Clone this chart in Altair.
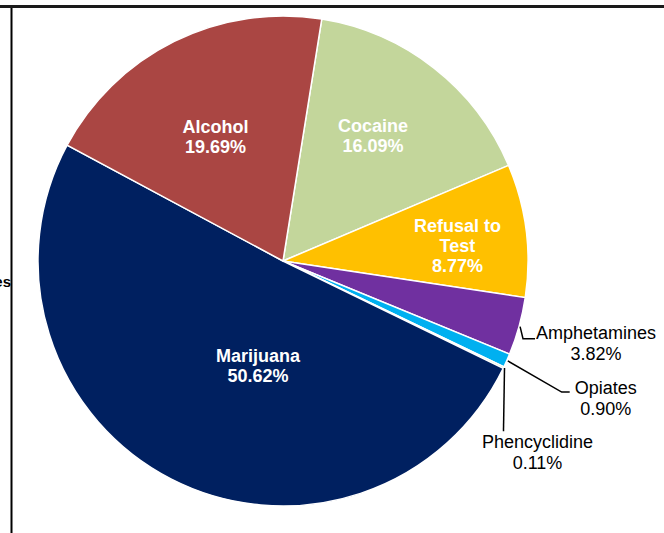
import math
import altair as alt
import pandas as pd

# ---- data ----
categories = ["Cocaine", "Refusal to Test", "Amphetamines", "Opiates",
              "Phencyclidine", "Marijuana", "Alcohol"]
shares = [16.09, 8.77, 3.82, 0.90, 0.11, 50.62, 19.69]
label_names = ["Cocaine", "Refusal to\nTest", "Amphetamines", "Opiates",
               "Phencyclidine", "Marijuana", "Alcohol"]
inside = [True, True, False, False, False, True, True]

# ---- styles / layout ----
colors = ["#C3D69B", "#FFC000", "#7030A0", "#00B0F0", "#92D050", "#002060", "#AA4643"]
W, H = 664, 533
CX, CY, R = 283, 261, 245
START_DEG = 9.1
FONT = "Liberation Sans"
LH_IN, LH_OUT = 20, 21

label_layout = {  # (angle shift in degrees from slice middle, radius in px)
    "Cocaine": (-2.0, 153),
    "Refusal to Test": (2.6, 175),
    "Amphetamines": (-0.5, 324),
    "Opiates": (-0.8, 351),
    "Phencyclidine": (11.3, 319),
    "Marijuana": (-13.9, 109),
    "Alcohol": (-2.5, 140),
}
leader_layout = {  # (end dx from label centre, end dy, elbow dx from end)
    "Amphetamines": (-61, -6, -12),
    "Opiates": (-36, -7, -8),
    "Phencyclidine": (-34, -22, 0),
}

total = sum(shares)
rows, lead = [], []
cum = 0.0
for i, (c, s, n, ins) in enumerate(zip(categories, shares, label_names, inside)):
    mid = START_DEG + (cum + s / 2) / total * 360.0
    cum += s
    dth, rad = label_layout[c]
    a = math.radians(mid + dth)
    lx = CX + rad * math.sin(a)
    ly = CY - rad * math.cos(a)
    label = f"{n}\n{s:.2f}%"
    nlines = label.count("\n") + 1
    lh = LH_IN if ins else LH_OUT
    rows.append({"category": c, "share": s, "order": i, "label": label,
                 "inside": ins, "lx": lx, "ly": ly - (nlines - 1) * lh / 2})
    if c in leader_layout:
        ex, ey, hx = leader_layout[c]
        am = math.radians(mid)
        sx, sy = CX + (R + 1) * math.sin(am), CY - (R + 1) * math.cos(am)
        endx, endy = lx + ex, ly + ey
        pts = [(sx, sy), (endx + hx, endy), (endx, endy)]
        for k, (px, py) in enumerate(pts):
            lead.append({"category": c, "k": k, "px": px, "py": py})

df = pd.DataFrame(rows)
lead_df = pd.DataFrame(lead)

xs = alt.Scale(domain=[0, W], range=[0, W], nice=False, zero=False)
ys = alt.Scale(domain=[0, H], range=[0, H], nice=False, zero=False)

pie = alt.Chart(df).mark_arc(outerRadius=R, stroke="white", strokeWidth=1.5).encode(
    theta=alt.Theta("share:Q", stack=True,
                    scale=alt.Scale(range=[math.radians(START_DEG),
                                           math.radians(START_DEG) + 2 * math.pi])),
    order=alt.Order("order:Q"),
    color=alt.Color("category:N", scale=alt.Scale(domain=categories, range=colors),
                    legend=None),
    x=alt.value(CX),
    y=alt.value(CY),
)

inner = alt.Chart(df).transform_filter("datum.inside").mark_text(
    font=FONT, fontSize=18, fontWeight="bold", color="white",
    align="center", baseline="middle", lineBreak="\n", lineHeight=LH_IN,
).encode(
    x=alt.X("lx:Q", scale=xs, axis=None),
    y=alt.Y("ly:Q", scale=ys, axis=None),
    text="label:N",
)

outer = alt.Chart(df).transform_filter("!datum.inside").mark_text(
    font=FONT, fontSize=18, color="black",
    align="center", baseline="middle", lineBreak="\n", lineHeight=LH_OUT,
).encode(
    x=alt.X("lx:Q", scale=xs, axis=None),
    y=alt.Y("ly:Q", scale=ys, axis=None),
    text="label:N",
)

leaders = alt.Chart(lead_df).mark_line(color="black", strokeWidth=1.5).encode(
    x=alt.X("px:Q", scale=xs, axis=None),
    y=alt.Y("py:Q", scale=ys, axis=None),
    detail="category:N",
    order="k:Q",
)

one = pd.DataFrame({"a": [0]})
top_rule = alt.Chart(one).mark_rule(color="#1a1a1a", strokeWidth=3).encode(
    x=alt.value(0), x2=alt.value(W), y=alt.value(6.5))
left_rule = alt.Chart(one).mark_rule(color="black", strokeWidth=2).encode(
    x=alt.value(11.5), y=alt.value(8), y2=alt.value(H))
side_text = alt.Chart(one).mark_text(
    font=FONT, fontSize=15, fontWeight="bold", color="black",
    align="right", baseline="middle").encode(
    x=alt.value(11), y=alt.value(282), text=alt.value("es"))

chart = alt.layer(pie, leaders, inner, outer, top_rule, left_rule, side_text).properties(
    width=W, height=H, autosize="none", padding=0,
).configure_view(stroke=None)

chart.save("out.html", embed_options={"renderer": "svg", "actions": False})
